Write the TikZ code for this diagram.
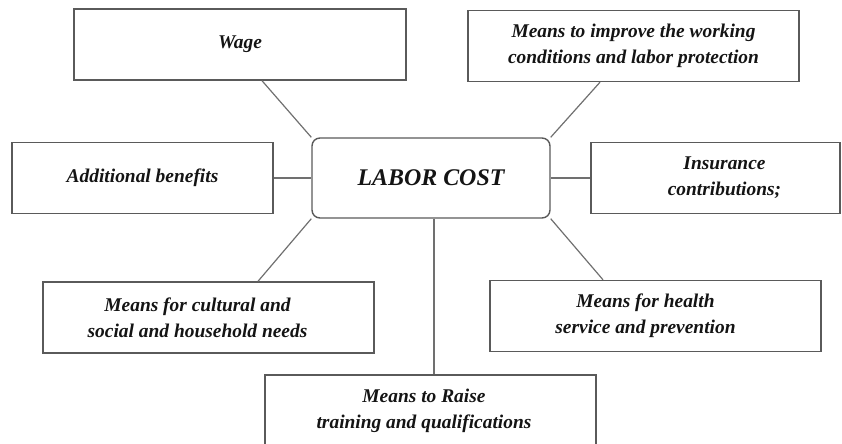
\documentclass[tikz,border=0pt]{standalone}
\usepackage{fontspec}
\setmainfont{Liberation Serif}
\definecolor{frame}{HTML}{5A5A5A}
\definecolor{wire}{HTML}{707070}
\definecolor{ink}{HTML}{141414}
\tikzset{
  item/.style={rectangle,draw=frame,line width=1.4bp,fill=white,align=center,inner sep=0pt,minimum height=71bp,text=ink,font=\fontsize{19.5}{26}\selectfont\bfseries\itshape},
  hub/.style={rectangle,rounded corners=8bp,draw=frame,line width=1.4bp,fill=white,align=center,inner sep=0pt,minimum width=238bp,minimum height=80bp,text=ink,font=\fontsize{24}{28}\selectfont\bfseries\itshape},
  link/.style={draw=wire,line width=1.2bp}
}

\begin{document}
\begin{tikzpicture}[x=1bp,y=-1bp]
  \useasboundingbox (0,0) rectangle (842,444);
  % centre
  \node[hub] (labor) at (431,178) {LABOR COST};
  % surrounding cost items
  \node[item,minimum width=332bp] (wage) at (240,44.5) {Wage};
  \node[item,minimum width=331bp] (improve) at (633.5,46) {Means to improve the working\\conditions and labor protection};
  \node[item,minimum width=261bp] (benefits) at (142.5,178) {Additional benefits};
  \node[item,minimum width=249bp] (insurance) at (715.5,178) {\hspace*{18bp}Insurance\\\hspace*{18bp}contributions;};
  \node[item,minimum width=331bp] (cultural) at (208.5,317.5) {Means for cultural and\hspace*{22bp}\\social and household needs\hspace*{22bp}};
  \node[item,minimum width=331bp] (health) at (655.5,316) {Means for health\hspace*{20bp}\\service and prevention\hspace*{20bp}};
  \node[item,minimum width=331bp] (raise) at (430.5,410.5) {Means to Raise\hspace*{13bp}\\training and qualifications\hspace*{13bp}};
  % links to the centre
  \draw[link] ([xshift=22bp]wage.south) -- (labor.north west);
  \draw[link] ([xshift=-33.5bp]improve.south) -- (labor.north east);
  \draw[link] (benefits) -- (labor);
  \draw[link] (insurance) -- (labor);
  \draw[link] ([xshift=49.5bp]cultural.north) -- (labor.south west);
  \draw[link] ([xshift=-52.5bp]health.north) -- (labor.south east);
  \draw[link] ([xshift=3bp]labor.south) -- ([xshift=3.5bp]raise.north);
\end{tikzpicture}
\end{document}
